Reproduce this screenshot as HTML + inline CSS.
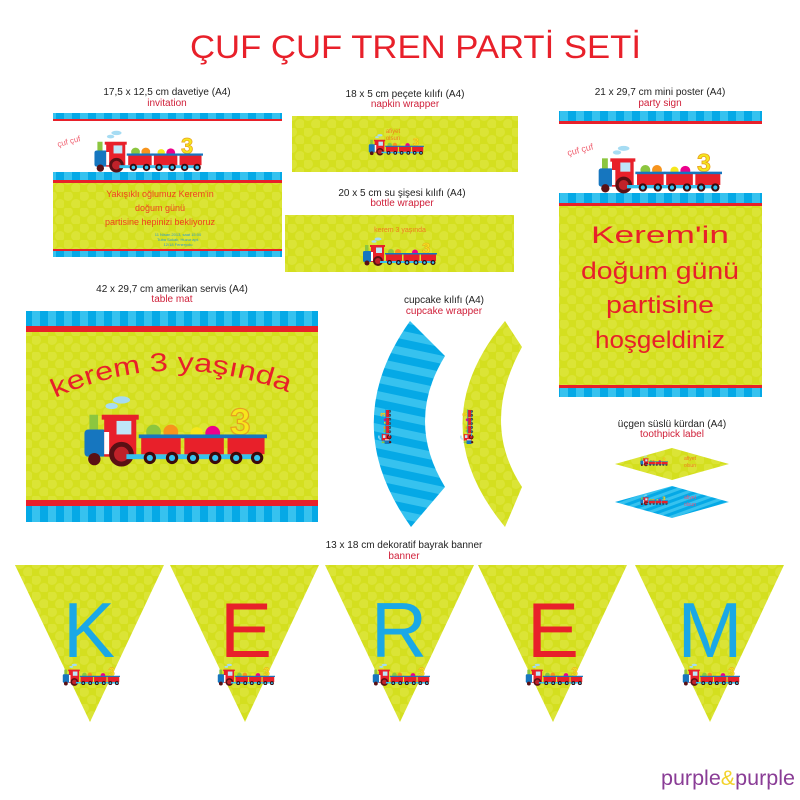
<!DOCTYPE html>
<html><head><meta charset="utf-8"><style>
html,body{margin:0;padding:0;background:#fff;width:800px;height:800px;overflow:hidden}
svg{display:block}
text{font-family:"Liberation Sans",sans-serif}
</style></head><body>
<svg width="800" height="800" viewBox="0 0 800 800" xmlns="http://www.w3.org/2000/svg">
<defs>
<pattern id="dots" width="16" height="16" patternUnits="userSpaceOnUse">
<rect width="16" height="16" fill="#d4df1f"/>
<circle cx="4" cy="4" r="5" fill="#dbe436"/><circle cx="12" cy="12" r="5" fill="#dbe436"/>
</pattern>
<pattern id="stripesV" width="16" height="16" patternUnits="userSpaceOnUse">
<rect width="16" height="16" fill="#05a9e6"/><rect width="8" height="16" fill="#36c2ef"/>
</pattern>
<pattern id="stripesH" width="16" height="16" patternUnits="userSpaceOnUse" patternTransform="rotate(12)">
<rect width="16" height="16" fill="#05a9e6"/><rect width="16" height="8" fill="#36c2ef"/>
</pattern>
<pattern id="stripesD" width="6" height="6" patternUnits="userSpaceOnUse" patternTransform="rotate(70)">
<rect width="6" height="6" fill="#05a9e6"/><rect width="3" height="6" fill="#36c2ef"/>
</pattern>
<symbol id="train" viewBox="0 0 150 60">
<ellipse cx="32" cy="4" rx="7" ry="3" fill="#a6dcf3"/><ellipse cx="24" cy="9" rx="5" ry="2.5" fill="#a6dcf3"/>
<rect x="6" y="16" width="7" height="14" fill="#8cc63f"/>
<rect x="2" y="28" width="18" height="22" rx="3" fill="#1676bf"/>
<rect x="18" y="18" width="26" height="32" fill="#e8202a"/>
<rect x="16" y="16" width="30" height="4" fill="#e8202a"/>
<rect x="28" y="21" width="12" height="11" fill="#bfe6f8"/>
<rect x="18" y="30" width="4" height="18" fill="#fff"/>
<circle cx="32" cy="48" r="10" fill="#5a1014"/><circle cx="32" cy="48" r="6" fill="#c0222a"/>
<circle cx="10" cy="52" r="5" fill="#5a1014"/>
<rect x="36" y="48" width="110" height="4" fill="#36c2ef"/>
<circle cx="58" cy="30" r="6" fill="#8cc63f"/><circle cx="72" cy="30" r="6" fill="#f7941d"/>
<circle cx="93" cy="31" r="5" fill="#f5e71c"/><circle cx="106" cy="31" r="6" fill="#ec008c"/>
<text x="120" y="32" font-size="30" font-weight="bold" fill="#f5e71c" stroke="#e8a020" stroke-width="1">3</text>
<g fill="#e8202a"><rect x="48" y="34" width="32" height="14"/><rect x="83" y="34" width="32" height="14"/><rect x="118" y="34" width="30" height="14"/></g>
<g fill="#1676bf"><rect x="46" y="32" width="36" height="3"/><rect x="81" y="32" width="36" height="3"/><rect x="116" y="32" width="34" height="3"/></g>
<g fill="#3a0a0c"><circle cx="55" cy="51" r="5"/><circle cx="73" cy="51" r="5"/><circle cx="90" cy="51" r="5"/><circle cx="108" cy="51" r="5"/><circle cx="125" cy="51" r="5"/><circle cx="142" cy="51" r="5"/></g>
<g fill="#36c2ef"><circle cx="55" cy="51" r="2.5"/><circle cx="73" cy="51" r="2.5"/><circle cx="90" cy="51" r="2.5"/><circle cx="108" cy="51" r="2.5"/><circle cx="125" cy="51" r="2.5"/><circle cx="142" cy="51" r="2.5"/></g>
</symbol>
</defs>

<text x="190" y="58" font-size="32" fill="#e8202a" textLength="451" lengthAdjust="spacingAndGlyphs">ÇUF ÇUF TREN PARTİ SETİ</text>

<g font-size="10" text-anchor="middle">
<text x="167" y="95" fill="#222">17,5 x 12,5 cm davetiye (A4)</text><text x="167" y="106" fill="#d0203a">invitation</text>
<text x="405" y="97" fill="#222">18 x 5 cm peçete kılıfı (A4)</text><text x="405" y="107" fill="#d0203a">napkin wrapper</text>
<text x="402" y="196" fill="#222">20 x 5 cm su şişesi kılıfı (A4)</text><text x="402" y="206" fill="#d0203a">bottle wrapper</text>
<text x="660" y="95" fill="#222">21 x 29,7 cm mini poster (A4)</text><text x="660" y="106" fill="#d0203a">party sign</text>
<text x="172" y="292" fill="#222">42 x 29,7 cm amerikan servis (A4)</text><text x="172" y="302" fill="#d0203a">table mat</text>
<text x="444" y="303" fill="#222">cupcake kılıfı (A4)</text><text x="444" y="314" fill="#d0203a">cupcake wrapper</text>
<text x="672" y="427" fill="#222">üçgen süslü kürdan (A4)</text><text x="672" y="437" fill="#d0203a">toothpick label</text>
<text x="404" y="548" fill="#222">13 x 18 cm dekoratif bayrak banner</text><text x="404" y="559" fill="#d0203a">banner</text>
</g>

<rect x="53" y="113" width="229" height="144" fill="#fff"/>
<rect x="53" y="113" width="229" height="6" fill="url(#stripesV)"/>
<rect x="53" y="119" width="229" height="2" fill="#e8202a"/>
<rect x="53" y="172" width="229" height="8" fill="url(#stripesV)"/>
<rect x="53" y="180" width="229" height="3" fill="#e8202a"/>
<rect x="53" y="183" width="229" height="67" fill="url(#dots)"/>
<rect x="53" y="249" width="229" height="2" fill="#e8202a"/>
<rect x="53" y="251" width="229" height="6" fill="url(#stripesV)"/>
<use href="#train" x="93" y="130" width="110" height="44"/>
<text x="58" y="146" font-size="8" fill="#f06070" transform="rotate(-15 62 146)">çuf çuf</text>
<g text-anchor="middle" fill="#f04020" font-size="9">
<text x="160" y="197">Yakışıklı oğlumuz Kerem'in</text>
<text x="160" y="211">doğum günü</text>
<text x="160" y="225">partisine hepinizi bekliyoruz</text>
</g>
<g text-anchor="middle" fill="#2a9ad0" font-size="4">
<text x="178" y="236">11 Nisan 2013, saat 15:00</text><text x="178" y="241">Tuba Sokak, Huzur apt.</text><text x="178" y="246">12/18 Feneryolu</text>
</g>

<rect x="292" y="116" width="226" height="56" fill="url(#dots)"/>
<use href="#train" x="368" y="133" width="56" height="24"/>
<text x="393" y="133" font-size="6" fill="#f07a20" text-anchor="middle">afiyet</text>
<text x="393" y="140" font-size="6" fill="#f07a20" text-anchor="middle">olsun</text>

<rect x="285" y="215" width="229" height="57" fill="url(#dots)"/>
<text x="400" y="232" font-size="7" fill="#f07a20" text-anchor="middle">kerem 3 yaşında</text>
<use href="#train" x="362" y="237" width="75" height="30"/>

<rect x="559" y="111" width="203" height="286" fill="#fff"/>
<rect x="559" y="111" width="203" height="10" fill="url(#stripesV)"/>
<rect x="559" y="121" width="203" height="3" fill="#e8202a"/>
<rect x="559" y="193" width="203" height="10" fill="url(#stripesV)"/>
<rect x="559" y="203" width="203" height="3" fill="#e8202a"/>
<rect x="559" y="206" width="203" height="179" fill="url(#dots)"/>
<rect x="559" y="385" width="203" height="3" fill="#e8202a"/>
<rect x="559" y="388" width="203" height="9" fill="url(#stripesV)"/>
<use href="#train" x="597" y="145" width="125" height="50"/>
<text x="568" y="155" font-size="9" fill="#f06070" transform="rotate(-15 572 155)">çuf çuf</text>
<g text-anchor="middle" fill="#e8202a" font-size="24">
<text x="660" y="243" textLength="138" lengthAdjust="spacingAndGlyphs">Kerem'in</text>
<text x="660" y="279" textLength="158" lengthAdjust="spacingAndGlyphs">doğum günü</text>
<text x="660" y="313" textLength="108" lengthAdjust="spacingAndGlyphs">partisine</text>
<text x="660" y="348" textLength="130" lengthAdjust="spacingAndGlyphs">hoşgeldiniz</text>
</g>

<rect x="26" y="311" width="292" height="15" fill="url(#stripesV)"/>
<rect x="26" y="326" width="292" height="6" fill="#e8202a"/>
<rect x="26" y="332" width="292" height="170" fill="url(#dots)"/>
<rect x="26" y="500" width="292" height="6" fill="#e8202a"/>
<rect x="26" y="506" width="292" height="16" fill="url(#stripesV)"/>
<path id="arcp" d="M55 398 Q170 345 295 395" fill="none"/>
<text font-size="26" fill="#e8202a"><textPath href="#arcp" textLength="240" lengthAdjust="spacingAndGlyphs">kerem 3 yaşında</textPath></text>
<use href="#train" x="82" y="393" width="185" height="78"/>

<path d="M410 321 L445 356 Q405 421 445 487 L411 527 Q337 424 410 321 Z" fill="url(#stripesH)"/>
<path d="M505 321 L522 347 Q480 423 522 487 L505 527 Q420 424 505 321 Z" fill="url(#dots)"/>
<use href="#train" x="360" y="420" width="50" height="14" transform="rotate(-90 385 427)"/>
<use href="#train" x="442" y="420" width="50" height="14" transform="rotate(-90 467 427)"/>

<polygon points="615,464 672,448 729,464 672,480" fill="url(#dots)"/>
<polygon points="615,502 672,486 729,502 672,518" fill="url(#stripesD)"/>
<use href="#train" x="640" y="455" width="28" height="12"/>
<use href="#train" x="640" y="494" width="28" height="12"/>
<g font-size="5" fill="#f07a20" text-anchor="middle"><text x="690" y="460">afiyet</text><text x="690" y="467">olsun</text></g>
<g font-size="5" fill="#e8507a" text-anchor="middle"><text x="690" y="499">afiyet</text><text x="690" y="506">olsun</text></g>

<g fill="url(#dots)">
<polygon points="15,565 164,565 90,722"/>
<polygon points="170,565 319,565 245,722"/>
<polygon points="325,565 474,565 400,722"/>
<polygon points="478,565 627,565 553,722"/>
<polygon points="635,565 784,565 710,722"/>
</g>
<g font-size="78" text-anchor="middle">
<text x="89" y="657" fill="#1aa8e6">K</text>
<text x="246" y="657" fill="#e8202a">E</text>
<text x="399" y="657" fill="#1aa8e6">R</text>
<text x="553" y="657" fill="#e8202a">E</text>
<text x="710" y="657" fill="#1aa8e6">M</text>
</g>
<use href="#train" x="62" y="663" width="58" height="24"/>
<use href="#train" x="217" y="663" width="58" height="24"/>
<use href="#train" x="372" y="663" width="58" height="24"/>
<use href="#train" x="525" y="663" width="58" height="24"/>
<use href="#train" x="682" y="663" width="58" height="24"/>

<text x="661" y="785" font-size="21" fill="#8a3d96" textLength="134" lengthAdjust="spacingAndGlyphs">purple<tspan fill="#f2d22a">&amp;</tspan>purple</text>
</svg>
</body></html>
